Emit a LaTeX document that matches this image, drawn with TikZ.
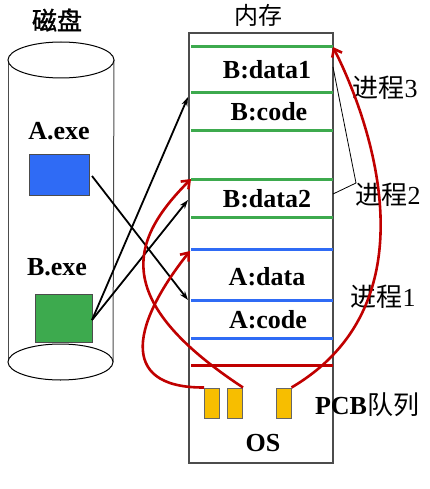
\documentclass[tikz,border=0pt]{standalone}
\usepackage{fontspec}
\setmainfont{Liberation Serif}
\newfontfamily\cjk{Noto Sans CJK SC}
\newfontfamily\cjkb[FakeBold=1.5]{Noto Sans CJK SC}
\usetikzlibrary{arrows.meta}
\definecolor{mgreen}{HTML}{3DAA4E}
\definecolor{mblue}{HTML}{2F6BF5}
\definecolor{mred}{HTML}{C00000}
\definecolor{myellow}{HTML}{F7BE00}
\tikzset{
  lbl/.style={font=\fontsize{26}{28}\selectfont\bfseries, inner sep=0pt},
  clbl/.style={font=\fontsize{26}{28}\selectfont, inner sep=0pt},
  gline/.style={mgreen, line width=3pt},
  bline/.style={mblue, line width=3pt},
  rline/.style={mred, line width=3pt},
  pcb/.style={draw=black!60, fill=myellow, line width=1pt, minimum width=15pt, minimum height=30pt, inner sep=0pt},
  blk/.style={-{Stealth[length=9pt,width=6pt]}, line width=1.8pt},
  redarr/.style={mred, line width=2.6pt, -{Straight Barb[length=7pt,width=11pt]}},
  brk/.style={black, line width=0.8pt},
}
\begin{document}
\begin{tikzpicture}[x=1pt,y=-1pt]
\useasboundingbox (0,0) rectangle (429,489);
% disk
\draw[black!70, line width=1pt] (8,60) -- (8,362);
\draw[black!70, line width=1pt] (114,60) -- (113,362);
\draw[fill=white, line width=1pt] (61,60) ellipse [x radius=53, y radius=18];
\draw[fill=white, line width=1pt] (60.5,362) ellipse [x radius=52.5, y radius=18];
\node[font=\fontsize{25}{27}\selectfont\cjkb, inner sep=0pt] (disk) at (57,20) {磁盘};
\node[lbl] (alabel) at (59,131) {A.exe};
\node[lbl] (blabel) at (57,267) {B.exe};
\node[draw=black!70, fill=mblue, line width=1pt, minimum width=60pt, minimum height=40pt, inner sep=0pt] (abox) at (59,175) {};
\node[draw=black!70, fill=mgreen, line width=1pt, minimum width=57pt, minimum height=48pt, inner sep=0pt] (bbox) at (63.5,318) {};
% memory
\node[draw=black!70, line width=1.5pt, minimum width=144pt, minimum height=430pt, inner sep=0pt] (mem) at (261,248) {};
\node[font=\fontsize{24}{26}\selectfont\cjk, inner sep=0pt] (memlbl) at (258,15) {内存};
\draw[gline] (191,47) -- (333,47);
\draw[gline] (191,93) -- (333,93);
\draw[gline] (191,131) -- (333,131);
\draw[gline] (191,179) -- (333,179);
\draw[gline] (191,217) -- (333,217);
\draw[bline] (191,249) -- (333,249);
\draw[bline] (191,300) -- (333,300);
\draw[bline] (191,338) -- (333,338);
\draw[rline] (191,365) -- (333,365);
\node[lbl] (bd1) at (267,70) {B:data1};
\node[lbl] (bc) at (269,112) {B:code};
\node[lbl] (bd2) at (267,199) {B:data2};
\node[lbl] (ad) at (267,277) {A:data};
\node[lbl] (ac) at (268,320) {A:code};
\node[lbl] (os) at (263,443) {OS};
\node[pcb] (p1) at (212,403) {};
\node[pcb] (p2) at (235,403) {};
\node[pcb] (p3) at (283.5,403) {};
% labels right
\node[clbl] (j3) at (385,88) {{\cjk 进程}3};
\node[clbl] (j2) at (388,195) {{\cjk 进程}2};
\node[clbl] (j1) at (383,297) {{\cjk 进程}1};
\node[clbl] (pcbq) at (367,405) {\textbf{PCB}{\cjk 队列}};
% bracket
\coordinate (bk1) at (333,67);
\coordinate (bk2) at (333,194);
\coordinate (bkj) at (356,183);
\draw[brk] (bk1) -- (bkj) -- (bk2);
% black arrows
\coordinate (aout) at (92,176);
\coordinate (bout) at (92,320);
\coordinate (tad) at (188,300);
\coordinate (tbc) at (188,97);
\coordinate (tbd2) at (188,200);
\draw[blk] (aout) -- (tad);
\draw[blk] (bout) -- (tbc);
\draw[blk] (bout) -- (tbd2);
% red curves
\coordinate (ra) at (190,251);
\coordinate (rb) at (191,179);
\coordinate (rc) at (333,47);
\draw[redarr] (p1.north west) .. controls (115,388) and (135,320) .. (ra);
\draw[redarr] (p2.north east) .. controls (110,300) and (130,240) .. (rb);
\draw[redarr] (p3.north east) .. controls (440,300) and (365,110) .. (rc);
\end{tikzpicture}
\end{document}
